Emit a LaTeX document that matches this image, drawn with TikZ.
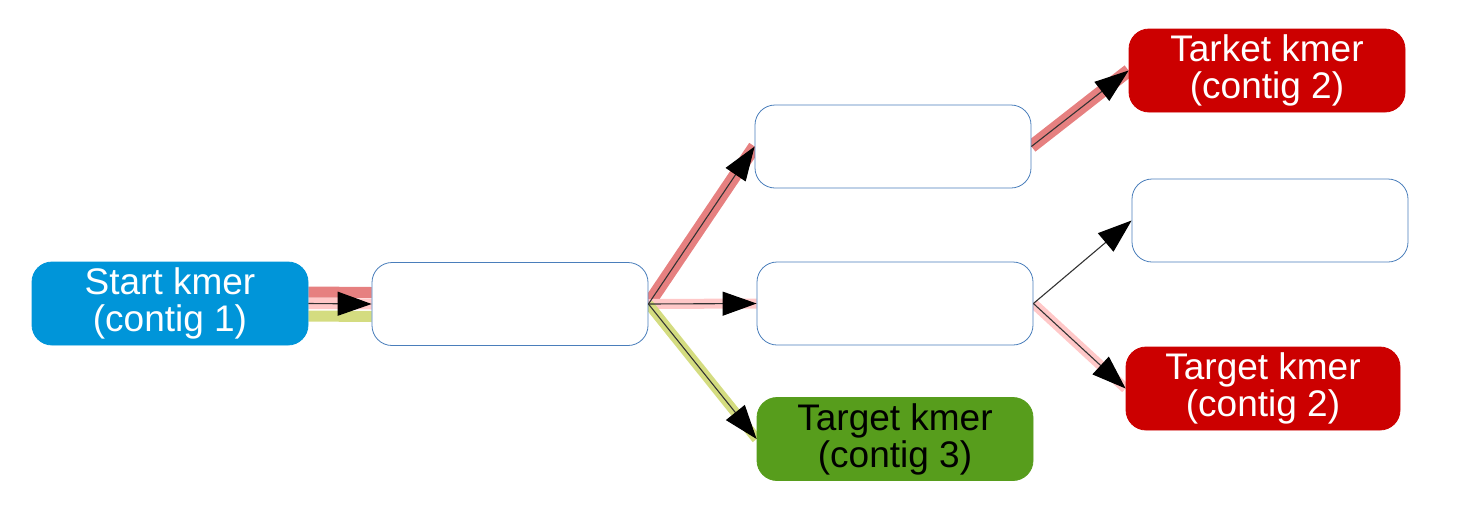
\documentclass[tikz,border=0pt]{standalone}
\usepackage{fontspec}
\setmainfont{Liberation Sans}
\usepackage{xcolor}
\usetikzlibrary{arrows.meta,positioning,backgrounds}
\definecolor{kblue}{RGB}{0,149,217}
\definecolor{kred}{RGB}{204,0,0}
\definecolor{kgreen}{RGB}{87,157,28}
\definecolor{kborder}{RGB}{74,126,187}
\definecolor{bandred}{RGB}{230,128,128}
\definecolor{bandpink}{RGB}{255,200,200}
\definecolor{bandgreen}{RGB}{212,220,128}
\tikzstyle{kmer}=[rectangle,rounded corners=20pt,draw=kborder,line width=0.8pt,fill=white,minimum width=276pt,minimum height=83pt,inner sep=0pt,align=center,font=\fontsize{37}{37}\selectfont]
\tikzstyle{edge} = [draw,line width=1.1pt,black!80,-{Triangle[length=34pt,width=24pt,fill=black,color=black]}]
\tikzstyle{band} = [draw,line width=11pt]

\begin{document}
\begin{tikzpicture}[x=1pt,y=-1pt]
    \useasboundingbox (0,0) rectangle (1463,504);

    % kmer nodes
    \node[kmer,fill=kblue,draw=kblue,text=white] (start) at (170,303.5) {Start kmer\\(contig 1)};
    \foreach \pos/ \name in {{(510,304)/a},{(893,146.5)/b},{(895,303.5)/c},{(1270,220.5)/d}}
        \node[kmer] (\name) at \pos {};
    \node[kmer,fill=kgreen,draw=kgreen] (t3) at (895,439) {Target kmer\\(contig 3)};
    \node[kmer,fill=kred,draw=kred,text=white] (t2a) at (1267,70.5) {Tarket kmer\\(contig 2)};
    \node[kmer,fill=kred,draw=kred,text=white,minimum width=274pt] (t2b) at (1263,388.5) {Target kmer\\(contig 2)};

    % highlighted paths to the targets
    \begin{scope}[on background layer]
        \path[band,bandred] ([yshift=11.5pt]start.east) -- ([yshift=11.5pt]a.west);
        \path[band,bandpink] (start.east) -- (a.west);
        \path[band,bandgreen] ([yshift=-12.5pt]start.east) -- ([yshift=-12.5pt]a.west);
        \path[band,bandred,line width=13pt] (a.east) -- (b.west);
        \path[band,bandpink,line width=10pt] (a.east) -- (c.west);
        \path[band,bandgreen,line width=10pt] (a.east) -- (t3.west);
        \path[band,bandred,line width=13pt] (b.east) -- (t2a.west);
        \path[band,bandpink,line width=10pt] (c.east) -- (t2b.west);
    \end{scope}

    % Connect kmers with edges
    \foreach \source/ \dest in {start/a, a/b, a/c, a/t3, b/t2a, c/d, c/t2b}
        \path[edge] (\source.east) -- (\dest.west);

\end{tikzpicture}
\end{document}
